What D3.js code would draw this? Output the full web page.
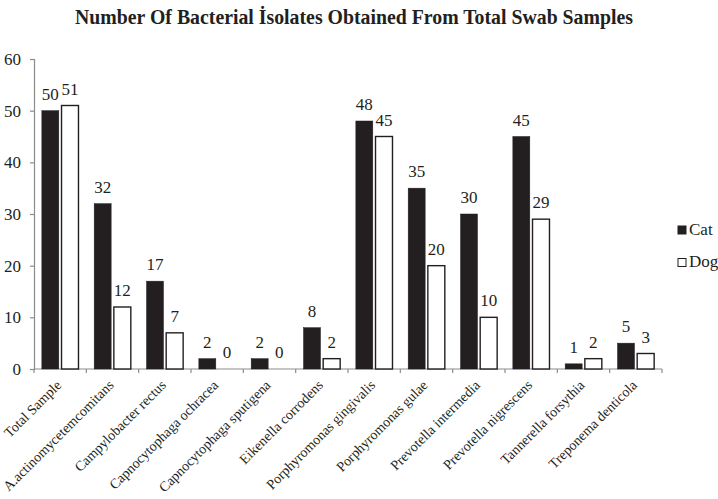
<!DOCTYPE html>
<html><head><meta charset="utf-8">
<script src="https://cdn.jsdelivr.net/npm/d3@7"></script>
<style>body{margin:0;background:#fff}svg{display:block}</style>
</head><body>
<script>
const categories = ["Total Sample","A.actinomycetemcomitans","Campylobacter rectus","Capnocytophaga ochracea","Capnocytophaga sputigena","Eikenella corrodens","Porphyromonas gingivalis","Porphyromonas gulae","Prevotella intermedia","Prevotella nigrescens","Tannerella forsythia","Treponema denticola"];
const catValues = [50,32,17,2,2,8,48,35,30,45,1,5];
const dogValues = [51,12,7,0,0,2,45,20,10,29,2,3];
const seriesNames = ["Cat","Dog"];
const yTicks = [0,10,20,30,40,50,60];
const title = "Number Of Bacterial İsolates Obtained From Total Swab Samples";

const FONT='"Liberation Serif","Times New Roman",serif';
const INK="#231f20";
const W=718,H=499;
const svg=d3.select("body").append("svg").attr("width",W).attr("height",H)
  .style("font-family",FONT);
const x0=d3.scaleBand().domain(categories).range([34,662]).paddingInner(0.3).paddingOuter(0.15);
const x1=d3.scaleBand().domain(seriesNames).range([0,x0.bandwidth()]).paddingInner(0.137);
const y=d3.scaleLinear().domain([0,60]).range([369,59]);
const axisColor="#8c8c8c";

// title
svg.append("text").attr("x",354).attr("y",24).attr("text-anchor","middle")
  .style("font-family",FONT).style("font-weight","bold").style("font-size","21px").attr("fill",INK)
  .attr("textLength",558).attr("lengthAdjust","spacingAndGlyphs").text(title);

// y axis
const yAxis=d3.axisLeft(y).tickValues(yTicks).tickSize(4).tickPadding(9);
const gy=svg.append("g").attr("transform","translate(34,0)").call(yAxis).attr("font-family",null).attr("font-size",null);
gy.select(".domain").attr("stroke",axisColor).attr("stroke-width",1.2);
gy.selectAll(".tick line").attr("stroke",axisColor).attr("stroke-width",1.2);
gy.selectAll(".tick text").style("font-family",FONT).style("font-size","17px").attr("fill",INK);

// x axis line and ticks at category boundaries
const step=x0.step();
const bounds=categories.map(c=>x0(c)-step*x0.paddingInner()/2);
bounds.push(bounds[bounds.length-1]+step);
svg.append("line").attr("x1",34).attr("x2",bounds[bounds.length-1]).attr("y1",y(0)).attr("y2",y(0))
  .attr("stroke",axisColor).attr("stroke-width",1.2);
svg.selectAll(".xt").data(bounds).join("line").attr("x1",d=>d).attr("x2",d=>d)
  .attr("y1",y(0)).attr("y2",y(0)+4).attr("stroke",axisColor).attr("stroke-width",1.2);

// bars
const rows=categories.map((c,i)=>({c,vals:[{s:"Cat",v:catValues[i]},{s:"Dog",v:dogValues[i]}]}));
const g=svg.selectAll(".grp").data(rows).join("g").attr("transform",d=>`translate(${x0(d.c)},0)`);
g.selectAll("rect").data(d=>d.vals).join("rect")
  .attr("x",d=>x1(d.s)).attr("width",x1.bandwidth())
  .attr("y",d=>y(d.v)).attr("height",d=>y(0)-y(d.v))
  .attr("fill",d=>d.s==="Cat"?INK:"#fff")
  .attr("stroke",d=>d.v===0?"none":INK).attr("stroke-width",d=>d.s==="Dog"?1.4:0.5);
g.selectAll("text.v").data(d=>d.vals).join("text").attr("class","v")
  .attr("x",d=>x1(d.s)+x1.bandwidth()/2).attr("y",d=>y(d.v)-11)
  .attr("text-anchor","middle").style("font-family",FONT).style("font-size","17px").attr("fill",INK).text(d=>d.v);

// category labels
svg.selectAll(".cl").data(categories).join("text").attr("class","cl")
  .attr("text-anchor","end").style("font-family",FONT).style("font-size","14px").attr("fill",INK)
  .attr("transform",d=>`translate(${x0(d)+x0.bandwidth()/2+2},${y(0)+17}) rotate(-45)`)
  .text(d=>d);

// legend
const lg=svg.append("g");
seriesNames.forEach((s,i)=>{
  const yy=226+i*32.5;
  lg.append("rect").attr("x",678).attr("y",yy).attr("width",8).attr("height",8)
    .attr("fill",s==="Cat"?INK:"#fff").attr("stroke",INK).attr("stroke-width",1);
  lg.append("text").attr("x",689).attr("y",yy+8.5).style("font-family",FONT).style("font-size","17px").attr("fill",INK).text(s);
});
</script>
</body></html>
